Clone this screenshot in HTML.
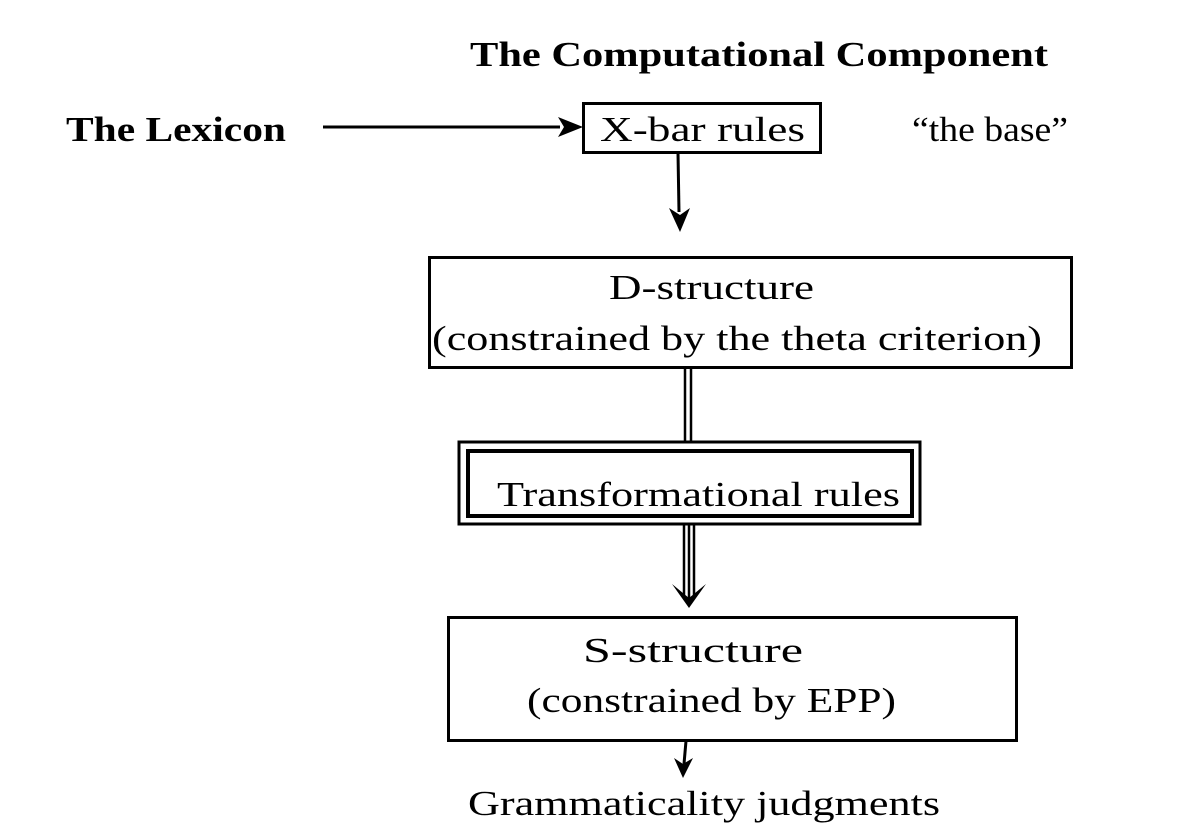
<!DOCTYPE html>
<html><head><style>body{margin:0;background:#fff}svg{display:block}</style></head>
<body>
<svg width="1198" height="840" viewBox="0 0 1198 840" xmlns="http://www.w3.org/2000/svg" font-family="'Liberation Serif', serif" fill="#000">
<text x="470" y="66" font-size="35" font-weight="bold" textLength="578" lengthAdjust="spacingAndGlyphs">The Computational Component</text>
<text x="66" y="141" font-size="35" font-weight="bold" textLength="220" lengthAdjust="spacingAndGlyphs">The Lexicon</text>
<line x1="323" y1="127" x2="560" y2="127" stroke="#000" stroke-width="3"/>
<path d="M558,117 L583,127 L558,137 L564,127 Z"/>
<rect x="583.5" y="103.5" width="237" height="49" fill="none" stroke="#000" stroke-width="3"/>
<text x="600" y="141" font-size="35" textLength="205" lengthAdjust="spacingAndGlyphs">X-bar rules</text>
<text x="912" y="141" font-size="35" textLength="156" lengthAdjust="spacingAndGlyphs">“the base”</text>
<line x1="678" y1="153" x2="679" y2="212" stroke="#000" stroke-width="3"/>
<path d="M669,208 L680,232 L690,208 L680,215 Z"/>
<rect x="429.5" y="257.5" width="642" height="110" fill="none" stroke="#000" stroke-width="3"/>
<text x="609" y="299" font-size="35" textLength="205" lengthAdjust="spacingAndGlyphs">D-structure</text>
<text x="432" y="350" font-size="35" textLength="610" lengthAdjust="spacingAndGlyphs">(constrained by the theta criterion)</text>
<line x1="685" y1="368" x2="685" y2="442" stroke="#000" stroke-width="2.5"/>
<line x1="691" y1="368" x2="691" y2="442" stroke="#000" stroke-width="2.5"/>
<rect x="459" y="442" width="461" height="82" fill="none" stroke="#000" stroke-width="3"/>
<rect x="468" y="451" width="444" height="65" fill="none" stroke="#000" stroke-width="4"/>
<text x="497" y="506" font-size="35" textLength="403" lengthAdjust="spacingAndGlyphs">Transformational rules</text>
<line x1="684" y1="524" x2="684" y2="596" stroke="#000" stroke-width="2.5"/>
<line x1="689" y1="524" x2="689" y2="600" stroke="#000" stroke-width="2.5"/>
<line x1="694" y1="524" x2="694" y2="596" stroke="#000" stroke-width="2.5"/>
<path d="M672,584 L689,608 L706,584 L689,598 Z"/>
<rect x="448.5" y="617.5" width="568" height="123" fill="none" stroke="#000" stroke-width="3"/>
<text x="583" y="662" font-size="35" textLength="220" lengthAdjust="spacingAndGlyphs">S-structure</text>
<text x="527" y="712" font-size="35" textLength="369" lengthAdjust="spacingAndGlyphs">(constrained by EPP)</text>
<line x1="686" y1="741" x2="684" y2="764" stroke="#000" stroke-width="3"/>
<path d="M674,758 L683,778 L693,758 L683,764 Z"/>
<text x="468" y="815" font-size="35" textLength="472" lengthAdjust="spacingAndGlyphs">Grammaticality judgments</text>
</svg>
</body></html>
